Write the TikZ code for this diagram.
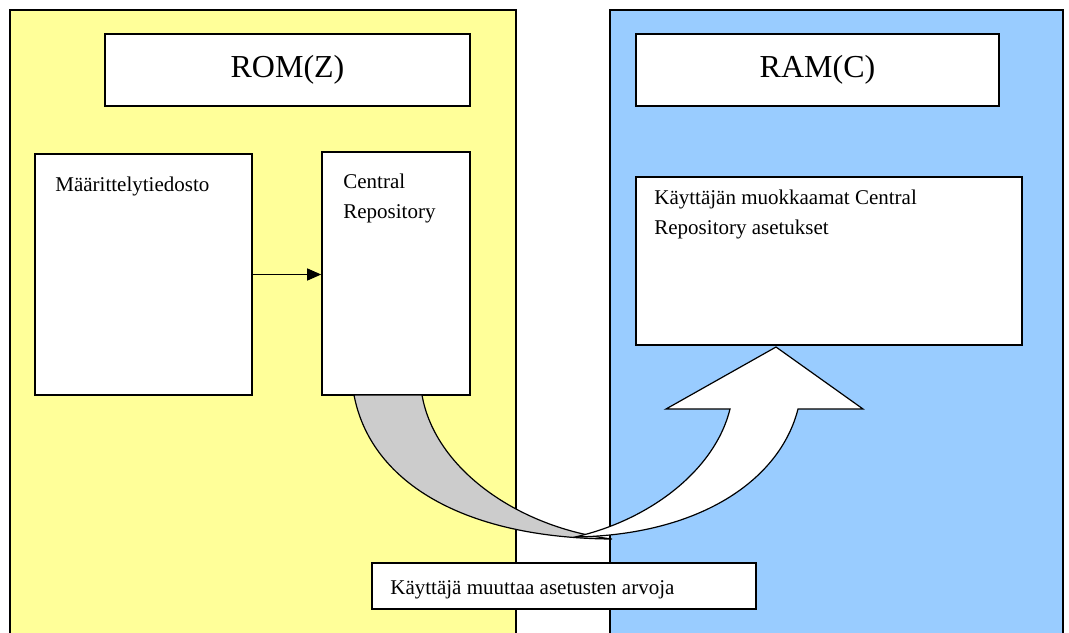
\documentclass[tikz,border=0pt]{standalone}
\usepackage{fontspec}
\setmainfont{Liberation Serif}
\usetikzlibrary{arrows.meta,positioning,calc}
\definecolor{romyellow}{RGB}{255,255,153}
\definecolor{ramblue}{RGB}{153,204,255}
\definecolor{copygray}{RGB}{204,204,204}

\begin{document}
\begin{tikzpicture}[x=0.5pt,y=-0.5pt,
    panel/.style={draw, line width=0.7pt},
    box/.style={draw, fill=white, line width=0.8pt, inner sep=0pt},
    txt/.style={font=\fontsize{10.5}{15}\selectfont, align=left, inner sep=0pt, anchor=north west}]
    \useasboundingbox (0,0) rectangle (1069,632);

    % ROM side
    \draw[panel, fill=romyellow] (10,10) rectangle (516,640);
    \node[box, minimum width=182.5pt, minimum height=36pt, font=\fontsize{16}{19}\selectfont] (rom) at (287.5,70) {ROM(Z)};
    \node[box, minimum width=108.5pt, minimum height=120.5pt] (maar) at (143.5,274.5) {};
    \node[txt] (maartxt) at (55,177) {Määrittelytiedosto};
    \node[box, minimum width=74pt, minimum height=121.5pt] (cr) at (396,273.5) {};
    \node[txt] (crtxt) at (343,174) {Central\\Repository};
    \draw[-{Triangle[length=7pt,width=6pt]}, line width=0.6pt] (maar.east) -- (maar.east -| cr.west);

    % RAM side
    \draw[panel, fill=ramblue] (610,10) rectangle (1063,640);
    \node[box, minimum width=181.5pt, minimum height=36pt, font=\fontsize{16}{19}\selectfont] (ram) at (817.5,70) {RAM(C)};
    \node[box, minimum width=193pt, minimum height=84pt] (mod) at (829,261) {};
    \node[txt] (modtxt) at (654,190) {Käyttäjän muokkaamat Central\\Repository asetukset};

    % copy arrow
    \filldraw[fill=copygray, line width=0.6pt] (354,395) .. controls (370,480) and (460,538) .. (612,539)
        .. controls (520,528) and (435,470) .. (422,395) -- cycle;
    \filldraw[fill=white, line width=0.6pt] (730,409) -- (666,409) -- (776,347) -- (863,409) -- (798,409)
        .. controls (780,480) and (700,535) .. (575,537)
        .. controls (650,520) and (715,470) .. (730,409) -- cycle;

    % user action
    \node[box, minimum width=192pt, minimum height=23pt] (user) at (564,586) {};
    \node[txt] (usertxt) at (390,580) {Käyttäjä muuttaa asetusten arvoja};
\end{tikzpicture}
\end{document}
